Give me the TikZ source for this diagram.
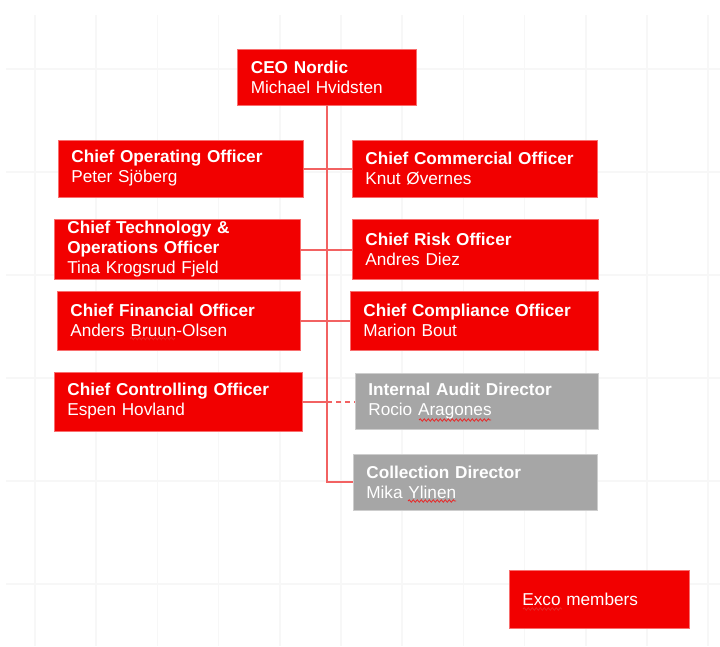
\documentclass[tikz,border=0pt]{standalone}
\usepackage{fontspec}
\setmainfont{Liberation Sans}
\usetikzlibrary{decorations.pathmorphing}
\definecolor{boxred}{RGB}{242,0,0}
\definecolor{boxredline}{RGB}{248,110,110}
\definecolor{boxgray}{RGB}{166,166,166}
\definecolor{boxgrayline}{RGB}{205,205,205}
\definecolor{connred}{RGB}{242,98,98}
\definecolor{gridgray}{RGB}{247,247,247}
\definecolor{squigred}{RGB}{232,40,40}
\begin{document}
\begin{tikzpicture}[x=0.75pt,y=-0.75pt,
  every node/.style={font=\fontsize{12.9pt}{15pt}\selectfont, text=white, align=left, inner xsep=10pt, inner ysep=0pt},
  redbox/.style={fill=boxred, draw=boxredline, line width=0.6pt},
  graybox/.style={fill=boxgray, draw=boxgrayline, line width=0.6pt},
  conn/.style={draw=connred, line width=1.5pt},
  dashconn/.style={conn, dash pattern=on 3.75pt off 3pt},
  gridline/.style={draw=gridgray, line width=1.3pt},
  squiggle/.style={draw=squigred, line width=0.6pt, decorate, decoration={snake, segment length=3pt, amplitude=0.9pt}}]
\useasboundingbox (0,0) rectangle (720,646);
% background grid
\foreach \i in {0,...,11} \draw[gridline] ({35+61.2*\i},15) -- ({35+61.2*\i},646);
\foreach \j in {0,...,5} \draw[gridline] (6,{69+103*\j}) -- (720,{69+103*\j});
% boxes
\node[redbox, text width=114.25pt, minimum height=42pt] (ceo) at (327,77)
  {\textbf{CEO Nordic}\\Michael Hvidsten};
\node[redbox, text width=163.75pt, minimum height=42.75pt] (coo) at (180.5,168.5)
  {\textbf{Chief Operating Officer}\\Peter Sjöberg};
\node[redbox, text width=163.75pt, minimum height=42.75pt] (cco) at (474.5,168.5)
  {\textbf{Chief Commercial Officer}\\Knut Øvernes};
\node[redbox, text width=164.5pt, minimum height=44.5pt] (cto) at (177,249.5)
  {\textbf{Chief Technology \&}\\\textbf{Operations Officer}\\Tina Krogsrud Fjeld};
\node[redbox, text width=164.5pt, minimum height=45pt] (cro) at (475,249.5)
  {\textbf{Chief Risk Officer}\\Andres Diez};
\node[redbox, text width=162.25pt, minimum height=44.25pt] (cfo) at (178.5,320.5)
  {\textbf{Chief Financial Officer}\\Anders Bruun-Olsen};
\node[redbox, text width=166pt, minimum height=44.25pt] (ccomp) at (474,320.5)
  {\textbf{Chief Compliance Officer}\\Marion Bout};
\node[redbox, text width=166pt, minimum height=44.25pt] (cctrl) at (178,401.5)
  {\textbf{Chief Controlling Officer}\\Espen Hovland};
\node[graybox, text width=162.25pt, minimum height=42pt] (iad) at (476.5,401.5)
  {\textbf{Internal Audit Director}\\Rocio Aragones};
\node[graybox, text width=163pt, minimum height=42pt] (coll) at (475,482)
  {\textbf{Collection Director}\\Mika Ylinen};
\node[redbox, text width=115pt, minimum height=43.5pt] (exco) at (599,599)
  {Exco members};
% spell-check squiggles
\draw[squiggle] (130,338.5) -- (175,338.5);
\draw[squiggle] (419,420) -- (491,420);
\draw[squiggle] (408,501) -- (456,501);
\draw[squiggle] (523,609) -- (562,609);
% connectors
\coordinate (jc) at (ceo.south |- cctrl.east);
\draw[conn] (ceo.south) |- (coll.west);
\draw[conn] (coo.east) -- (cco.west);
\draw[conn] (cto.east) -- (cro.west);
\draw[conn] (cfo.east) -- (ccomp.west);
\draw[conn] (cctrl.east) -- (jc);
\draw[dashconn] (jc) -- (iad.west);
\end{tikzpicture}
\end{document}
